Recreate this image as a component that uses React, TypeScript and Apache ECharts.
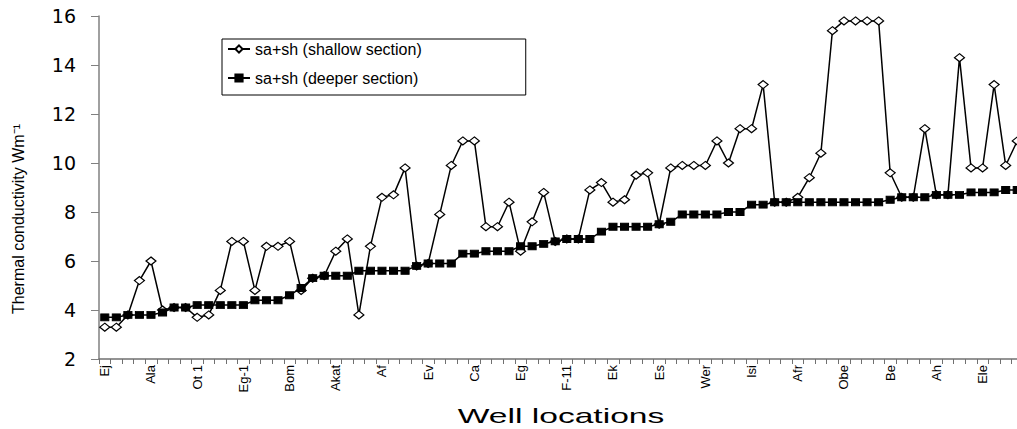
import React, { useEffect, useRef } from "react";
import * as echarts from "echarts";

const wellLabels = [
  "Ej", "Ala", "Ot 1", "Eg-1", "Bom", "Akat", "Af", "Ev", "Ca", "Eg",
  "F-11", "Ek", "Es", "Wer", "Isi", "Afr", "Obe", "Be", "Ah", "Ele",
];

const shallow = [
  3.3, 3.3, 3.8, 5.2, 6.0, 4.0, 4.1, 4.1, 3.7, 3.8,
  4.8, 6.8, 6.8, 4.8, 6.6, 6.6, 6.8, 4.8, 5.3, 5.4,
  6.4, 6.9, 3.8, 6.6, 8.6, 8.7, 9.8, 5.8, 5.9, 7.9,
  9.9, 10.9, 10.9, 7.4, 7.4, 8.4, 6.4, 7.6, 8.8, 6.8,
  6.9, 6.9, 8.9, 9.2, 8.4, 8.5, 9.5, 9.6, 7.5, 9.8,
  9.9, 9.9, 9.9, 10.9, 10.0, 11.4, 11.4, 13.2, 8.4, 8.4,
  8.6, 9.4, 10.4, 15.4, 15.8, 15.8, 15.8, 15.8, 9.6, 8.6,
  8.6, 11.4, 8.7, 8.7, 14.3, 9.8, 9.8, 13.2, 9.9, 10.9,
];

const deeper = [
  3.7, 3.7, 3.8, 3.8, 3.8, 3.9, 4.1, 4.1, 4.2, 4.2,
  4.2, 4.2, 4.2, 4.4, 4.4, 4.4, 4.6, 4.9, 5.3, 5.4,
  5.4, 5.4, 5.6, 5.6, 5.6, 5.6, 5.6, 5.8, 5.9, 5.9,
  5.9, 6.3, 6.3, 6.4, 6.4, 6.4, 6.6, 6.6, 6.7, 6.8,
  6.9, 6.9, 6.9, 7.2, 7.4, 7.4, 7.4, 7.4, 7.5, 7.6,
  7.9, 7.9, 7.9, 7.9, 8.0, 8.0, 8.3, 8.3, 8.4, 8.4,
  8.4, 8.4, 8.4, 8.4, 8.4, 8.4, 8.4, 8.4, 8.5, 8.6,
  8.6, 8.6, 8.7, 8.7, 8.7, 8.8, 8.8, 8.8, 8.9, 8.9,
];

const categories = shallow.map((_, i) =>
  i % 4 === 0 ? wellLabels[i / 4] : `${wellLabels[Math.floor(i / 4)]} #${(i % 4) + 1}`
);

const seriesNames = ["sa+sh (shallow section)", "sa+sh (deeper section)"];
const yTitle = "Thermal conductivity Wm⁻¹";
const xTitle = "Well locations";

export default function App() {
  const ref = useRef<HTMLDivElement>(null);
  useEffect(() => {
    if (!ref.current) return;
    const chart = echarts.init(ref.current, null, { renderer: "svg" });
    chart.setOption({
      animation: false,
      backgroundColor: "#ffffff",
      grid: { left: 99, right: 1, top: 16, bottom: 70, containLabel: false },
      legend: {
        orient: "vertical",
        left: 222,
        top: 39,
        borderColor: "#000",
        borderWidth: 1,
        padding: [2, 104, 9, 5],
        itemGap: 13,
        itemWidth: 22,
        itemHeight: 9,
        textStyle: { fontFamily: "Liberation Sans", fontSize: 16, color: "#000" },
        data: seriesNames,
      },
      xAxis: {
        type: "category",
        data: categories,
        boundaryGap: true,
        axisLine: { lineStyle: { color: "#707070", width: 1.5 } },
        axisTick: { show: true, interval: 0, length: 5, lineStyle: { color: "#707070" } },
        axisLabel: {
          interval: 3,
          rotate: 90,
          margin: 6,
          padding: [0, 0, 6, 0],
          fontFamily: "Liberation Sans",
          fontSize: 13,
          color: "#000",
          formatter: (v: string) => (v.includes("#") ? "" : v),
        },
        splitLine: { show: false },
      },
      yAxis: {
        type: "value",
        min: 2,
        max: 16,
        interval: 2,
        axisLine: { show: true, lineStyle: { color: "#808080", width: 1.5 } },
        axisTick: { show: true, length: 8, lineStyle: { color: "#808080" } },
        axisLabel: { margin: 23, fontFamily: "DejaVu Sans", fontSize: 19, color: "#000" },
        splitLine: { show: false },
      },
      graphic: [
        {
          type: "text",
          x: 18,
          y: 219,
          rotation: Math.PI / 2,
          style: {
            text: yTitle,
            fontFamily: "Liberation Sans",
            fontSize: 16,
            fill: "#000",
            align: "center",
            verticalAlign: "middle",
          },
        },
        {
          type: "text",
          x: 561,
          y: 416,
          scaleX: 1.6,
          style: {
            text: xTitle,
            fontFamily: "Liberation Sans",
            fontSize: 21,
            fill: "#000",
            align: "center",
            verticalAlign: "middle",
          },
        },
      ],
      series: [
        {
          name: seriesNames[0],
          type: "line",
          data: shallow,
          symbol: "diamond",
          symbolSize: [10, 8],
          showAllSymbol: true,
          lineStyle: { color: "#000", width: 1.5 },
          itemStyle: { color: "#fff", borderColor: "#000", borderWidth: 1.2 },
          z: 2,
        },
        {
          name: seriesNames[1],
          type: "line",
          data: deeper,
          symbol: "rect",
          symbolSize: [8, 7],
          showAllSymbol: true,
          lineStyle: { color: "#000", width: 1.5 },
          itemStyle: { color: "#000", borderColor: "#000", borderWidth: 1 },
          z: 3,
        },
      ],
    });
    return () => chart.dispose();
  }, []);
  return (
    <div
      ref={ref}
      style={{ position: "fixed", left: 0, top: 0, width: 1024, height: 429 }}
    />
  );
}
